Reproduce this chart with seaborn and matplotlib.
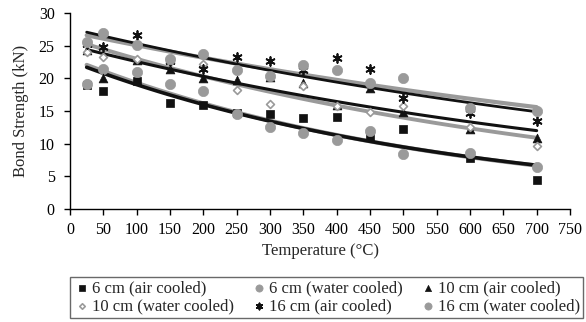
import numpy as np
import pandas as pd
import matplotlib
matplotlib.use("Agg")
import matplotlib.pyplot as plt
import seaborn as sns

temps = [25, 50, 100, 150, 200, 250, 300, 350, 400, 450, 500, 600, 700]
s6_air = [19.0, 18.1, 19.6, 16.2, 15.9, 14.7, 14.5, 13.9, 14.1, 11.0, 12.3, 7.8, 4.5]
s6_water = [19.1, 21.5, 20.9, 19.2, 18.0, 14.5, 12.5, 11.6, 10.6, 12.0, 8.4, 8.6, 6.5]
s10_air = [24.3, 20.1, 22.8, 21.4, 20.1, 19.7, 20.2, 19.3, 15.9, 18.5, 14.8, 12.2, 10.8]
s10_water = [24.1, 23.3, 22.9, 22.5, 22.2, 18.2, 16.1, 18.8, 15.7, 14.9, 15.7, 12.6, 9.7]
s16_air = [25.3, 24.8, 26.7, 22.6, 21.5, 23.3, 22.6, 21.2, 23.1, 21.5, 17.0, 14.7, 13.4]
s16_water = [25.6, 26.9, 25.1, 23.0, 23.7, 21.2, 20.3, 22.1, 21.3, 19.3, 20.0, 15.5, 15.0]
labels = ["6 cm (air cooled)", "6 cm (water cooled)", "10 cm (air cooled)",
          "10 cm (water cooled)", "16 cm (air cooled)", "16 cm (water cooled)"]
series = [s6_air, s6_water, s10_air, s10_water, s16_air, s16_water]

sns.set_style("white")
plt.rcParams['font.family'] = ['Liberation Serif', 'DejaVu Serif']

fig = plt.figure(figsize=(5.86, 3.22), dpi=100)
ax = fig.add_axes([70/586, 1-209/322, 500/586, 196/322])

gray = "#9a9a9a"
styles = [
    dict(marker="s", color="#111111", ec="#111111", s=38, lw=0.5),
    dict(marker="o", color=gray, ec=gray, s=55, lw=0.5),
    dict(marker="^", color="#111111", ec="#111111", s=40, lw=0.5),
    dict(marker="D", color="white", ec=gray, s=16, lw=1.2),
    dict(marker=(6, 2, 0), color="#111111", ec="#111111", s=40, lw=1.3),
    dict(marker="o", color=gray, ec=gray, s=55, lw=0.5),
]
line_styles = [("#111111", 2.6), (gray, 3.0), ("#111111", 2.2), (gray, 2.8), ("#111111", 2.0), (gray, 3.0)]

# trend lines (exponential fits of each series)
xfit = np.linspace(25, 700, 100)
order_lines = [1, 0, 3, 2, 5, 4]
for i in order_lines:
    y = np.array(series[i])
    b, a = np.polyfit(np.array(temps), np.log(y), 1)
    fit = pd.DataFrame({"x": xfit, "y": np.exp(a + b * xfit)})
    c, w = line_styles[i]
    sns.lineplot(data=fit, x="x", y="y", color=c, lw=w, ax=ax, zorder=2)

for i, (lab, vals) in enumerate(zip(labels, series)):
    st = styles[i]
    df = pd.DataFrame({"Temperature": temps, "Strength": vals})
    sns.scatterplot(data=df, x="Temperature", y="Strength", marker=st["marker"],
                    color=st["color"], edgecolor=st["ec"], s=st["s"], linewidth=st["lw"],
                    ax=ax, zorder=3, label=lab)

ax.set_xlim(0, 750)
ax.set_ylim(0, 30)
ax.set_xticks(np.arange(0, 751, 50))
ax.set_yticks(np.arange(0, 31, 5))
ax.tick_params(axis="both", labelsize=11.5, length=4, width=1, direction="out",
               bottom=True, left=True, colors="black")
ax.tick_params(axis="y", pad=7)
ax.tick_params(axis="x", pad=5)
for sp in ["top", "right"]:
    ax.spines[sp].set_visible(False)
for sp in ["left", "bottom"]:
    ax.spines[sp].set_color("black")
    ax.spines[sp].set_linewidth(1.0)
ax.set_xlabel("Temperature (\u00b0C)", fontsize=12, labelpad=4)
ax.set_ylabel("Bond Strength (kN)", fontsize=12, labelpad=7)

h, l = ax.get_legend_handles_labels()
ax.get_legend().remove()
idx = [0, 3, 1, 4, 2, 5]
leg = fig.legend([h[k] for k in idx], [l[k] for k in idx], ncol=3,
                 loc="lower right", bbox_to_anchor=(583/586, 4/322),
                 frameon=True, fontsize=12, handletextpad=0.1,
                 columnspacing=1.0, borderpad=0.2, labelspacing=0.15,
                 handlelength=1.0, markerscale=0.7, fancybox=False,
                 borderaxespad=0)
leg.get_frame().set_edgecolor("#444444")
leg.get_frame().set_linewidth(1.0)

fig.savefig("out.png", dpi=100)
